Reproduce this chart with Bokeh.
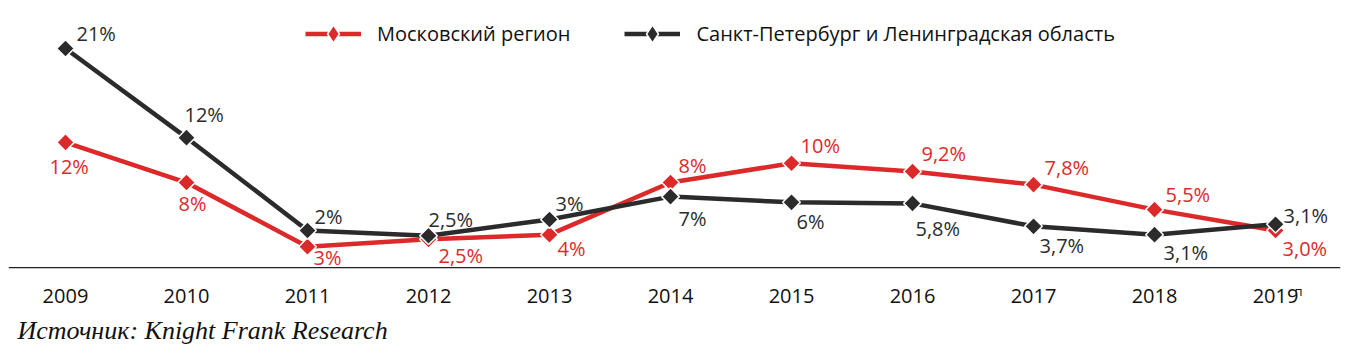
from bokeh.plotting import figure
from bokeh.models import ColumnDataSource, Legend, LegendItem, Title, Span
from bokeh.core.properties import value
from bokeh.embed import file_html
from bokeh.resources import INLINE
import numpy as np

# ---- data ----
years = [2009, 2010, 2011, 2012, 2013, 2014, 2015, 2016, 2017, 2018, 2019]
tick_labels = ["2009", "2010", "2011", "2012", "2013", "2014", "2015", "2016", "2017", "2018", "2019"]
forecast_mark = "п"
moscow = [12.0, 8.15, 2.0, 2.7, 3.15, 8.15, 10.0, 9.2, 7.95, 5.55, 3.55]
spb = [21.0, 12.45, 3.55, 3.05, 4.6, 6.8, 6.25, 6.15, 3.95, 3.15, 4.15]
moscow_labels = ["12%", "8%", "3%", "2,5%", "4%", "8%", "10%", "9,2%", "7,8%", "5,5%", "3,0%"]
spb_labels = ["21%", "12%", "2%", "2,5%", "3%", "7%", "6%", "5,8%", "3,7%", "3,1%", "3,1%"]
series_names = ["Московский регион", "Санкт-Петербург и Ленинградская область"]
source_text = "Источник: Knight Frank Research"

# ---- style ----
RED = "#dc2a2a"
BLACK = "#2b2b2b"
FONT = "Open Sans"

# label placement offsets in screen px (style)
m_dx = [-16, -8, 6, 10, 8, 8, 9, 9, 11, 11, 7]
m_dy = [24, 21, 11, 16, 14, -17, -18, -18, -17, -15, 18]
s_dx = [11, -2, 7, 0, 6, 8, 5, 3, 6, 9, 8]
s_dy = [-15, -23, -14, -16, -16, 22, 19, 25, 19, 18, -9]

p = figure(width=1348, height=353, x_range=(2008.529, 2019.537), y_range=(-4.12, 25.6),
           output_backend="svg", toolbar_location=None,
           x_axis_location=None, y_axis_location=None,
           min_border_left=8, min_border_right=8, min_border_top=0, min_border_bottom=43)
p.outline_line_color = None
p.grid.visible = False
p.background_fill_color = "white"

ms = ColumnDataSource(dict(x=years, y=moscow, t=moscow_labels, dx=m_dx, dy=m_dy))
ss = ColumnDataSource(dict(x=years, y=spb, t=spb_labels, dx=s_dx, dy=s_dy))
ts = ColumnDataSource(dict(x=years, t=tick_labels))

# baseline (x axis line at 0)
p.add_layout(Span(location=0, dimension="width", line_color="#222222", line_width=1.3))

rl = p.line("x", "y", source=ms, line_color=RED, line_width=4.5)
rm = p.scatter("x", "y", source=ms, marker="square", size=12.5, angle=np.pi / 4,
               fill_color=RED, line_color="white", line_width=1.5)
bl = p.line("x", "y", source=ss, line_color=BLACK, line_width=4.5)
bm = p.scatter("x", "y", source=ss, marker="square", size=12.5, angle=np.pi / 4,
               fill_color=BLACK, line_color="white", line_width=1.5)

# legend-only diamond glyphs (NaN data: drawn only in the legend)
rk = p.scatter(x=[np.nan], y=[np.nan], marker="diamond", fill_color=RED,
               line_color="white", line_width=1.5)
bk = p.scatter(x=[np.nan], y=[np.nan], marker="diamond", fill_color=BLACK,
               line_color="white", line_width=1.5)

p.text("x", "y", text="t", source=ms, x_offset="dx", y_offset="dy",
       text_font=value(FONT), text_font_size="20px", text_color=RED,
       text_align="left", text_baseline="middle")
p.text("x", "y", text="t", source=ss, x_offset="dx", y_offset="dy",
       text_font=value(FONT), text_font_size="20px", text_color=BLACK,
       text_align="left", text_baseline="middle")

# category (year) labels under the baseline
p.text("x", 0, text="t", source=ts, y_offset=28,
       text_font=value(FONT), text_font_size="20px", text_color="#111111",
       text_align="center", text_baseline="middle")
p.text(x=[years[-1]], y=[0], text=[forecast_mark], x_offset=19, y_offset=14,
       text_font=value(FONT), text_font_size="13px", text_color="#111111",
       text_align="left", text_baseline="top")

legend = Legend(items=[LegendItem(label=series_names[0], renderers=[rl, rk]),
                       LegendItem(label=series_names[1], renderers=[bl, bk])],
                orientation="horizontal", location=(297, 254),
                glyph_width=56, glyph_height=45, label_standoff=16, spacing=54,
                padding=0, margin=0, background_fill_alpha=0, border_line_alpha=0,
                label_text_font=FONT, label_text_font_size="20px", label_text_color="#111111")
p.add_layout(legend, "center")

p.add_layout(Title(text=source_text, align="left", offset=9, standoff=6,
                   text_font="Liberation Serif", text_font_style="italic",
                   text_font_size="26px", text_color="#111111"), "below")

open("out.html", "w").write(file_html(p, INLINE))
